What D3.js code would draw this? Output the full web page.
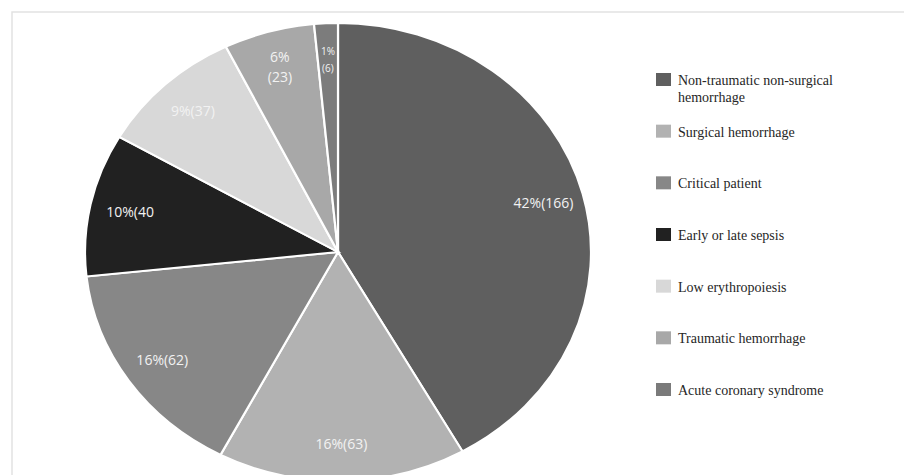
<!DOCTYPE html>
<html>
<head>
<meta charset="utf-8">
<script src="https://cdn.jsdelivr.net/npm/d3@7"></script>
<style>
body { margin: 0; background: #fff; }
.slice-label { font-family: "Open Sans", sans-serif; font-size: 14px; fill: #f2f2f2; }
.legend-text { font-family: "Liberation Serif", serif; font-size: 14px; fill: #262626; }
</style>
</head>
<body>
<svg id="pie-chart" width="904" height="475"></svg>
<script>
var categories = ["Non-traumatic non-surgical hemorrhage", "Surgical hemorrhage", "Critical patient",
  "Early or late sepsis", "Low erythropoiesis", "Traumatic hemorrhage", "Acute coronary syndrome"];
var counts = [166, 63, 62, 40, 37, 23, 6];
var sliceLabels = [["42%(166)"], ["16%(63)"], ["16%(62)"], ["10%(40"], ["9%(37)"], ["6%", "(23)"], ["1%", "(6)"]];
var legendLines = [["Non-traumatic non-surgical", "hemorrhage"], ["Surgical hemorrhage"], ["Critical patient"],
  ["Early or late sepsis"], ["Low erythropoiesis"], ["Traumatic hemorrhage"], ["Acute coronary syndrome"]];

var colors = ["#5f5f5f", "#b2b2b2", "#878787", "#212121", "#d8d8d8", "#a8a8a8", "#7c7c7c"];
var legendColors = ["#5f5f5f", "#b2b2b2", "#878787", "#212121", "#d8d8d8", "#a8a8a8", "#7a7a7a"];

var svg = d3.select("#pie-chart");

// light frame round the chart area
svg.append("rect")
    .attr("x", 12).attr("y", 12)
    .attr("width", 1000).attr("height", 1000)
    .attr("fill", "none")
    .attr("stroke", "#e2e2e2")
    .attr("stroke-width", 1.5);

var cx = 338, cy = 252, rx = 253, ry = 229;

var color = d3.scaleOrdinal().domain(categories).range(colors);

var pie = d3.pie().sort(null).value(function(d) { return d.count; });
var data = categories.map(function(c, i) {
  return {name: c, count: counts[i], label: sliceLabels[i]};
});
var arcs = pie(data);

var arc = d3.arc().innerRadius(0).outerRadius(rx);

var g = svg.append("g")
    .attr("transform", "translate(" + cx + "," + cy + ") scale(1," + (ry / rx) + ")");

g.selectAll(".slice")
  .data(arcs)
  .enter().append("path")
    .attr("class", "slice")
    .attr("d", arc)
    .attr("fill", function(d) { return color(d.data.name); })
    .attr("stroke", "#fff")
    .attr("stroke-width", 2.2);

// labels, placed in ellipse space
var labelArc = d3.arc().innerRadius(rx * 0.84).outerRadius(rx * 0.84);

var lab = svg.selectAll(".slice-label")
  .data(arcs)
  .enter().append("text")
    .attr("class", "slice-label")
    .attr("text-anchor", "middle")
    .attr("transform", function(d) {
      var c = labelArc.centroid(d);
      return "translate(" + (cx + c[0]) + "," + (cy + c[1] * ry / rx) + ")";
    })
    .style("font-size", function(d) { return d.data.count < 10 ? "10px" : "14px"; });

lab.each(function(d) {
  var t = d3.select(this);
  var n = d.data.label.length;
  var lh = d.data.count < 10 ? 17 : 20;
  d.data.label.forEach(function(s, j) {
    t.append("tspan")
      .attr("x", 0)
      .attr("y", (j - (n - 1) / 2) * lh)
      .attr("dy", "0.35em")
      .text(s);
  });
});

// legend
var legendY = d3.scalePoint().domain(categories).range([80, 390]);

var leg = svg.selectAll(".legend-item")
  .data(categories)
  .enter().append("g")
    .attr("class", "legend-item")
    .attr("transform", function(d) { return "translate(656," + legendY(d) + ")"; });

leg.append("rect")
    .attr("x", 0).attr("y", -7)
    .attr("width", 15).attr("height", 13)
    .attr("fill", function(d, i) { return legendColors[i]; });

leg.append("text")
    .attr("class", "legend-text")
    .each(function(d, i) {
      var t = d3.select(this);
      legendLines[i].forEach(function(s, j) {
        t.append("tspan")
          .attr("x", 22)
          .attr("y", j * 17)
          .attr("dy", "0.35em")
          .text(s);
      });
    });
</script>
</body>
</html>
